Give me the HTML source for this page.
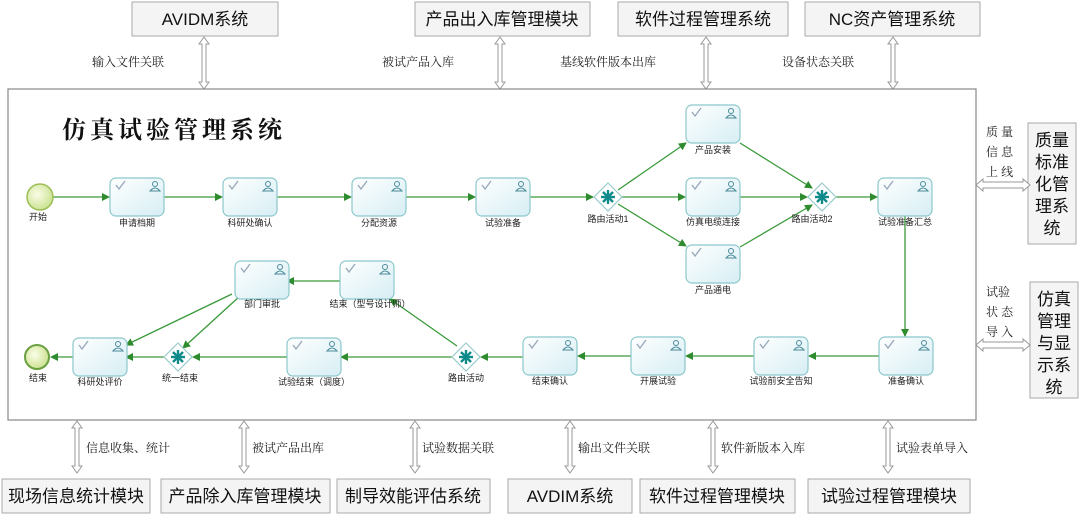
<!DOCTYPE html>
<html><head><meta charset="utf-8"><style>
body{margin:0;background:#fff;}
svg{display:block;font-family:"Liberation Sans","Noto Sans CJK SC",sans-serif;}
.bx{fill:#f4f4f4;stroke:#aaa;stroke-width:1;}
.bt{font-size:17px;fill:#111;text-anchor:middle;}
.lb{font-family:"Noto Serif CJK SC","WenQuanYi Zen Hei",serif;font-size:12px;fill:#222;}
.nl{font-size:9px;fill:#222;text-anchor:middle;}
.fl{stroke:#3a9a3a;stroke-width:1.3;fill:none;marker-end:url(#ah);}
</style></head><body>
<svg width="1080" height="514" viewBox="0 0 1080 514">
<defs>
<marker id="ah" markerWidth="8" markerHeight="8" refX="7" refY="4" orient="auto" markerUnits="userSpaceOnUse"><path d="M0,0 L8,4 L0,8 z" fill="#2e8b2e"/></marker>
<linearGradient id="tg" x1="0" y1="0" x2="1" y2="1"><stop offset="0" stop-color="#ffffff"/><stop offset="1" stop-color="#d6eef4"/></linearGradient>
<radialGradient id="cg" cx="0.4" cy="0.4" r="0.7"><stop offset="0" stop-color="#fbfde8"/><stop offset="1" stop-color="#c5de86"/></radialGradient>
<g id="task"><rect x="0" y="0" width="54" height="38" rx="6" fill="url(#tg)" stroke="#8cc8cc" stroke-width="1.2"/><path d="M6,7 l3,4 l6,-8" stroke="#9ab" stroke-width="1.4" fill="none"/><circle cx="45" cy="6" r="2.5" fill="none" stroke="#4a8a9a"/><path d="M40,13 q5,-6 10,0 z" fill="none" stroke="#4a8a9a"/></g>
<g id="gw"><path d="M0,-14 L14,0 L0,14 L-14,0 z" fill="#fff" stroke="#9cc" stroke-width="1.2"/><g stroke="#0f8a8a" stroke-width="2.4"><line x1="-7" y1="0" x2="7" y2="0"/><line x1="0" y1="-7" x2="0" y2="7"/><line x1="-5" y1="-5" x2="5" y2="5"/><line x1="-5" y1="5" x2="5" y2="-5"/></g></g>
<g id="dv"><path d="M0,0 l-5,7 h3 v38 h-3 l5,7 l5,-7 h-3 v-38 h3 z" fill="#fff" stroke="#999"/></g>
<g id="dh"><path d="M0,0 l7,-6 v3 h40 v-3 l7,6 l-7,6 v-3 h-40 v3 z" fill="#fff" stroke="#999"/></g>
</defs>

<!-- top boxes -->
<rect class="bx" x="132" y="2" width="146" height="34"/><text class="bt" x="205" y="25">AVIDM系统</text>
<rect class="bx" x="415" y="2" width="175" height="34"/><text class="bt" x="502" y="25">产品出入库管理模块</text>
<rect class="bx" x="618" y="2" width="170" height="34"/><text class="bt" x="703" y="25">软件过程管理系统</text>
<rect class="bx" x="805" y="2" width="175" height="34"/><text class="bt" x="892" y="25">NC资产管理系统</text>
<use href="#dv" x="204" y="37"/><use href="#dv" x="500" y="37"/><use href="#dv" x="706" y="37"/><use href="#dv" x="893" y="37"/>
<text class="lb" x="92" y="66">输入文件关联</text>
<text class="lb" x="382" y="66">被试产品入库</text>
<text class="lb" x="560" y="66">基线软件版本出库</text>
<text class="lb" x="782" y="66">设备状态关联</text>

<!-- main frame -->
<rect x="8" y="89" width="968" height="331" fill="#fff" stroke="#888" stroke-width="1.2"/>
<text x="62" y="138" font-family="'Noto Serif CJK SC',serif" font-size="24" font-weight="bold" fill="#111" letter-spacing="4">仿真试验管理系统</text>

<!-- right boxes -->
<rect class="bx" x="1028" y="123" width="48" height="121"/>
<text class="bt" font-size="17"><tspan x="1052" y="146">质量</tspan><tspan x="1052" y="168">标准</tspan><tspan x="1052" y="190">化管</tspan><tspan x="1052" y="212">理系</tspan><tspan x="1052" y="234">统</tspan></text>
<rect class="bx" x="1030" y="282" width="48" height="116"/>
<text class="bt" font-size="17"><tspan x="1054" y="305">仿真</tspan><tspan x="1054" y="327">管理</tspan><tspan x="1054" y="349">与显</tspan><tspan x="1054" y="371">示系</tspan><tspan x="1054" y="393">统</tspan></text>
<use href="#dh" x="976" y="185"/><use href="#dh" x="976" y="345"/>
<text class="lb"><tspan x="986" y="136">质 量</tspan><tspan x="986" y="156">信 息</tspan><tspan x="986" y="176">上 线</tspan></text>
<text class="lb"><tspan x="986" y="296">试验</tspan><tspan x="986" y="316">状 态</tspan><tspan x="986" y="336">导 入</tspan></text>

<!-- bottom -->
<use href="#dv" x="77" y="421"/><use href="#dv" x="244" y="421"/><use href="#dv" x="415" y="421"/><use href="#dv" x="570" y="421"/><use href="#dv" x="713" y="421"/><use href="#dv" x="888" y="421"/>
<text class="lb" x="86" y="452">信息收集、统计</text>
<text class="lb" x="252" y="452">被试产品出库</text>
<text class="lb" x="422" y="452">试验数据关联</text>
<text class="lb" x="578" y="452">输出文件关联</text>
<text class="lb" x="721" y="452">软件新版本入库</text>
<text class="lb" x="896" y="452">试验表单导入</text>
<rect class="bx" x="2" y="479" width="148" height="34"/><text class="bt" x="76" y="502">现场信息统计模块</text>
<rect class="bx" x="161" y="479" width="169" height="34"/><text class="bt" x="245" y="502">产品除入库管理模块</text>
<rect class="bx" x="337" y="479" width="153" height="34"/><text class="bt" x="413" y="502">制导效能评估系统</text>
<rect class="bx" x="508" y="479" width="124" height="34"/><text class="bt" x="570" y="502">AVDIM系统</text>
<rect class="bx" x="640" y="479" width="155" height="34"/><text class="bt" x="717" y="502">软件过程管理模块</text>
<rect class="bx" x="808" y="479" width="162" height="34"/><text class="bt" x="889" y="502">试验过程管理模块</text>

<!-- flows -->
<line class="fl" x1="53" y1="197" x2="109" y2="197"/>
<line class="fl" x1="164" y1="197" x2="222" y2="197"/>
<line class="fl" x1="277" y1="197" x2="351" y2="197"/>
<line class="fl" x1="406" y1="197" x2="475" y2="197"/>
<line class="fl" x1="530" y1="197" x2="593" y2="197"/>
<line class="fl" x1="618" y1="190" x2="686" y2="143"/>
<line class="fl" x1="622" y1="197" x2="685" y2="197"/>
<line class="fl" x1="618" y1="204" x2="686" y2="246"/>
<line class="fl" x1="740" y1="143" x2="812" y2="188"/>
<line class="fl" x1="740" y1="197" x2="807" y2="197"/>
<line class="fl" x1="740" y1="247" x2="812" y2="205"/>
<line class="fl" x1="836" y1="197" x2="877" y2="197"/>
<line class="fl" x1="905" y1="215" x2="905" y2="336"/>
<line class="fl" x1="879" y1="356" x2="809" y2="356"/>
<line class="fl" x1="754" y1="356" x2="686" y2="356"/>
<line class="fl" x1="631" y1="356" x2="578" y2="356"/>
<line class="fl" x1="523" y1="357" x2="481" y2="357"/>
<line class="fl" x1="452" y1="357" x2="341" y2="357"/>
<line class="fl" x1="457" y1="346" x2="390" y2="299"/>
<line class="fl" x1="340" y1="281" x2="287" y2="281"/>
<line class="fl" x1="287" y1="357" x2="193" y2="357"/>
<line class="fl" x1="240" y1="296" x2="183" y2="348"/>
<line class="fl" x1="232" y1="294" x2="126" y2="345"/>
<line class="fl" x1="164" y1="357" x2="126" y2="357"/>
<line class="fl" x1="73" y1="357" x2="51" y2="357"/>

<!-- nodes -->
<circle cx="40" cy="197" r="13" fill="url(#cg)" stroke="#9bbf55" stroke-width="1.5"/><text class="nl" x="38" y="220">开始</text>
<use href="#task" x="110" y="178"/><text class="nl" x="137" y="226">申请档期</text>
<use href="#task" x="223" y="178"/><text class="nl" x="250" y="226">科研处确认</text>
<use href="#task" x="352" y="178"/><text class="nl" x="379" y="226">分配资源</text>
<use href="#task" x="476" y="178"/><text class="nl" x="503" y="226">试验准备</text>
<use href="#gw" x="608" y="197"/><text class="nl" x="608" y="222">路由活动1</text>
<use href="#task" x="686" y="105"/><text class="nl" x="713" y="153">产品安装</text>
<use href="#task" x="686" y="178"/><text class="nl" x="713" y="225">仿真电缆连接</text>
<use href="#task" x="686" y="245"/><text class="nl" x="713" y="293">产品通电</text>
<use href="#gw" x="822" y="197"/><text class="nl" x="812" y="222">路由活动2</text>
<use href="#task" x="878" y="178"/><text class="nl" x="905" y="225">试验准备汇总</text>
<use href="#task" x="879" y="337"/><text class="nl" x="906" y="384">准备确认</text>
<use href="#task" x="754" y="337"/><text class="nl" x="781" y="384">试验前安全告知</text>
<use href="#task" x="631" y="337"/><text class="nl" x="658" y="384">开展试验</text>
<use href="#task" x="523" y="337"/><text class="nl" x="550" y="384">结束确认</text>
<use href="#gw" x="466" y="357"/><text class="nl" x="466" y="381">路由活动</text>
<use href="#task" x="287" y="338"/><text class="nl" x="314" y="385">试验结束（调度）</text>
<use href="#task" x="340" y="261"/><text class="nl" x="370" y="307">结束（型号设计师）</text>
<use href="#task" x="235" y="261"/><text class="nl" x="262" y="307">部门审批</text>
<use href="#gw" x="178" y="357"/><text class="nl" x="180" y="381">统一结束</text>
<use href="#task" x="73" y="338"/><text class="nl" x="100" y="385">科研处评价</text>
<circle cx="37" cy="357" r="12" fill="url(#cg)" stroke="#6aa040" stroke-width="2"/><text class="nl" x="38" y="381">结束</text>
</svg>
</body></html>
